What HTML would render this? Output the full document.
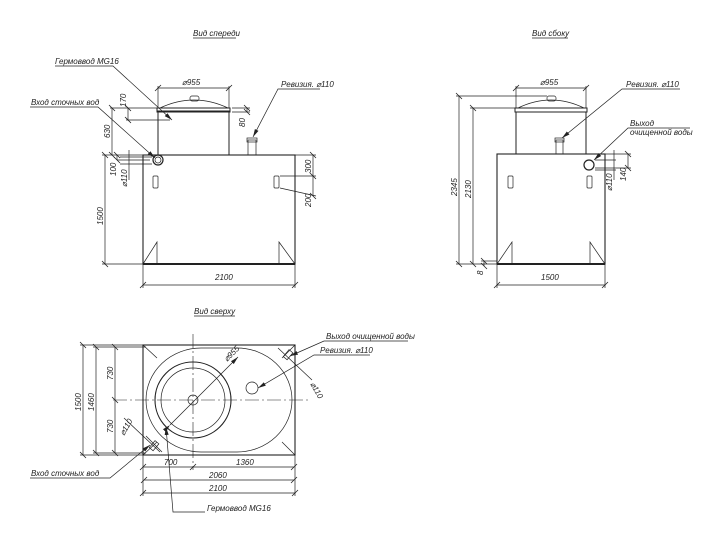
<!DOCTYPE html>
<html><head><meta charset="utf-8"><style>
html,body{margin:0;padding:0;background:#fff;}
svg{display:block}
text{font-family:"Liberation Sans",sans-serif;font-style:italic;font-size:8px;fill:#222}
</style></head><body>
<svg width="720" height="543" viewBox="0 0 720 543" xmlns="http://www.w3.org/2000/svg">
<defs>
<marker id="t" viewBox="-4 -4 8 8" markerWidth="8" markerHeight="8" refX="0" refY="0" orient="auto" markerUnits="userSpaceOnUse"><path d="M-3 3 L3 -3" stroke="#222" stroke-width="0.8"/></marker>
<marker id="a" viewBox="0 -3 8 6" markerWidth="8" markerHeight="6" refX="8" refY="0" orient="auto" markerUnits="userSpaceOnUse"><path d="M0 -2 L8 0 L0 2z" fill="#222"/></marker>
</defs>
<g stroke="#222" fill="none" stroke-width="0.7">
<!-- titles underline -->
<line x1="193" y1="38" x2="236" y2="38"/><line x1="532" y1="38" x2="568" y2="38"/><line x1="194" y1="316" x2="235" y2="316"/>

<!-- FRONT VIEW -->
<rect x="143" y="155" width="152" height="109" stroke-width="1.1"/>
<line x1="143" y1="264" x2="295" y2="264" stroke-width="2"/>
<path d="M143 264 L157 242 L157 264 M295 264 L279 242 L279 264"/>
<rect x="158" y="111" width="71" height="44" stroke-width="1"/>
<rect x="157" y="108" width="73" height="4" stroke-width="1"/>
<path d="M160 108 Q194 92 228 108"/>
<rect x="190" y="96" width="9" height="5" rx="2"/>
<rect x="248" y="140" width="8" height="15"/><rect x="247" y="138" width="10" height="4"/>
<circle cx="158" cy="160" r="5" stroke-width="1.2"/><circle cx="158" cy="160" r="3"/>
<rect x="153" y="176" width="5" height="12" rx="1"/><rect x="274" y="176" width="5" height="12" rx="1"/>
<!-- front dims -->
<line x1="158" y1="88" x2="229" y2="88" marker-start="url(#t)" marker-end="url(#t)"/>
<line x1="158" y1="86" x2="158" y2="108"/><line x1="229" y1="86" x2="229" y2="108"/>
<line x1="105" y1="155" x2="105" y2="264" marker-start="url(#t)" marker-end="url(#t)"/>
<line x1="102" y1="155" x2="143" y2="155"/><line x1="102" y1="264" x2="143" y2="264"/>
<line x1="112" y1="108" x2="112" y2="155" marker-start="url(#t)" marker-end="url(#t)"/>
<line x1="110" y1="108" x2="157" y2="108"/>
<line x1="128" y1="108" x2="128" y2="120" marker-start="url(#t)" marker-end="url(#t)"/>
<line x1="126" y1="120" x2="170" y2="120"/>
<line x1="117" y1="155" x2="117" y2="160" marker-start="url(#t)" marker-end="url(#t)"/>
<line x1="117" y1="160" x2="150" y2="160"/><line x1="120" y1="157" x2="152" y2="157"/><line x1="120" y1="164" x2="152" y2="164"/>
<line x1="129" y1="150" x2="129" y2="180"/>
<line x1="143" y1="285" x2="295" y2="285" marker-start="url(#t)" marker-end="url(#t)"/>
<line x1="143" y1="264" x2="143" y2="288"/><line x1="295" y1="264" x2="295" y2="288"/>
<line x1="313" y1="155" x2="313" y2="176" marker-start="url(#t)" marker-end="url(#t)"/>
<line x1="313" y1="176" x2="313" y2="196" marker-end="url(#t)"/>
<line x1="295" y1="155" x2="316" y2="155"/><line x1="280" y1="176" x2="316" y2="176"/><line x1="280" y1="188" x2="316" y2="196"/>
<line x1="247" y1="108" x2="247" y2="112" marker-start="url(#t)" marker-end="url(#t)"/>
<line x1="232" y1="108" x2="250" y2="108"/><line x1="232" y1="112" x2="250" y2="112"/>
<!-- leaders front -->
<path d="M55 66 L113 66 L172 120" marker-end="url(#a)"/>
<path d="M30 107 L98 107 L155 158" marker-end="url(#a)"/>
<path d="M320 89 L278 89 L253 137" marker-end="url(#a)"/>

<!-- SIDE VIEW -->
<rect x="497" y="154" width="108" height="110" stroke-width="1.1"/>
<line x1="497" y1="264" x2="605" y2="264" stroke-width="2"/>
<path d="M497 264 L512 242 L512 264 M605 264 L590 242 L590 264"/>
<rect x="516" y="112" width="70" height="42" stroke-width="1"/>
<rect x="515" y="108" width="72" height="4" stroke-width="1"/>
<path d="M518 108 Q551 92 584 108"/>
<rect x="547" y="96" width="9" height="5" rx="2"/>
<rect x="556" y="140" width="7" height="14"/><rect x="555" y="138" width="9" height="4"/>
<circle cx="589" cy="165" r="5" stroke-width="1.2"/>
<rect x="508" y="176" width="5" height="12" rx="1"/><rect x="587" y="176" width="5" height="12" rx="1"/>
<line x1="516" y1="88" x2="586" y2="88" marker-start="url(#t)" marker-end="url(#t)"/>
<line x1="516" y1="86" x2="516" y2="108"/><line x1="586" y1="86" x2="586" y2="108"/>
<line x1="459" y1="96" x2="459" y2="264" marker-start="url(#t)" marker-end="url(#t)"/>
<line x1="456" y1="96" x2="547" y2="96"/><line x1="456" y1="264" x2="497" y2="264"/>
<line x1="473" y1="108" x2="473" y2="264" marker-start="url(#t)" marker-end="url(#t)"/>
<line x1="470" y1="108" x2="515" y2="108"/>
<line x1="484" y1="261" x2="484" y2="266" marker-start="url(#t)" marker-end="url(#t)"/>
<line x1="481" y1="261" x2="497" y2="261"/>
<line x1="497" y1="285" x2="605" y2="285" marker-start="url(#t)" marker-end="url(#t)"/>
<line x1="497" y1="264" x2="497" y2="288"/><line x1="605" y1="264" x2="605" y2="288"/>
<line x1="628" y1="154" x2="628" y2="168" marker-start="url(#t)" marker-end="url(#t)"/>
<line x1="600" y1="154" x2="631" y2="154"/><line x1="595" y1="168" x2="631" y2="168"/>
<line x1="595" y1="160" x2="616" y2="160"/><line x1="595" y1="170" x2="616" y2="170"/>
<line x1="614" y1="150" x2="614" y2="180"/>
<path d="M680 89 L622 89 L562 138" marker-end="url(#a)"/>
<path d="M690 128 L628 128 L594 160" marker-end="url(#a)"/>

<!-- TOP VIEW -->
<rect x="143" y="345" width="152" height="110" stroke-width="1.1"/>
<rect x="146" y="348" width="146" height="104" rx="55" ry="52"/>
<path d="M143 345 L157 358 M295 345 L282 358 M143 455 L157 442 M295 455 L282 442"/>
<circle cx="193" cy="400" r="38" stroke-width="1.1"/>
<circle cx="193" cy="400" r="32"/>
<circle cx="193" cy="400" r="5"/>
<circle cx="252" cy="388" r="6"/>
<rect x="286" y="350" width="5" height="9" transform="rotate(40 288 354)"/>
<rect x="152" y="441" width="5" height="9" transform="rotate(40 154 445)"/>
<g stroke-dasharray="14 3 2 3" stroke-width="0.6">
<line x1="193" y1="334" x2="193" y2="470"/><line x1="113" y1="400" x2="310" y2="400"/>
</g>
<line x1="170" y1="425" x2="238" y2="357" marker-start="url(#a)" marker-end="url(#a)"/>
<line x1="83" y1="345" x2="83" y2="455" marker-start="url(#t)" marker-end="url(#t)"/>
<line x1="96" y1="347" x2="96" y2="453" marker-start="url(#t)" marker-end="url(#t)"/>
<line x1="115" y1="347" x2="115" y2="400" marker-start="url(#t)" marker-end="url(#t)"/>
<line x1="115" y1="400" x2="115" y2="453" marker-end="url(#t)"/>
<line x1="80" y1="345" x2="143" y2="345"/><line x1="80" y1="455" x2="143" y2="455"/>
<line x1="93" y1="347" x2="146" y2="347"/><line x1="93" y1="453" x2="146" y2="453"/>
<line x1="143" y1="467" x2="193" y2="467" marker-start="url(#t)" marker-end="url(#t)"/>
<line x1="193" y1="467" x2="294" y2="467" marker-end="url(#t)"/>
<line x1="144" y1="480" x2="294" y2="480" marker-start="url(#t)" marker-end="url(#t)"/>
<line x1="143" y1="493" x2="295" y2="493" marker-start="url(#t)" marker-end="url(#t)"/>
<line x1="143" y1="455" x2="143" y2="496"/><line x1="295" y1="455" x2="295" y2="496"/>
<line x1="124" y1="418" x2="160" y2="452"/><line x1="146" y1="436" x2="162" y2="452"/>
<line x1="278" y1="348" x2="312" y2="380"/>
<path d="M30 478 L110 478 L150 445" marker-end="url(#a)"/>
<path d="M205 512 L173 512 L166 427" marker-end="url(#a)"/>
<path d="M408 341 L324 341 L290 356" marker-end="url(#a)"/>
<path d="M370 355 L314 355 L258 388" marker-end="url(#a)"/>
</g>

<!-- TEXT -->
<text x="193" y="36">Вид спереди</text>
<text x="532" y="36">Вид сбоку</text>
<text x="194" y="314">Вид сверху</text>
<text x="55" y="64">Гермоввод MG16</text>
<text x="31" y="105">Вход сточных вод</text>
<text x="281" y="87">Ревизия. ⌀110</text>
<text x="182" y="85">⌀955</text>
<text x="540" y="85">⌀955</text>
<text x="626" y="87">Ревизия. ⌀110</text>
<text x="630" y="126">Выход</text>
<text x="630" y="135">очищенной воды</text>
<text x="215" y="280">2100</text>
<text x="541" y="280">1500</text>
<g font-size="8">
<text transform="translate(103 225) rotate(-90)">1500</text>
<text transform="translate(110 138) rotate(-90)">630</text>
<text transform="translate(126 107) rotate(-90)">170</text>
<text transform="translate(116 176) rotate(-90)">100</text>
<text transform="translate(127 187) rotate(-90)">⌀110</text>
<text transform="translate(311 173) rotate(-90)">300</text>
<text transform="translate(311 207) rotate(-90)">200</text>
<text transform="translate(245 127) rotate(-90)">80</text>
<text transform="translate(457 196) rotate(-90)">2345</text>
<text transform="translate(471 198) rotate(-90)">2130</text>
<text transform="translate(483 275) rotate(-90)">8</text>
<text transform="translate(612 191) rotate(-90)">⌀110</text>
<text transform="translate(626 181) rotate(-90)">140</text>
<text transform="translate(81 411) rotate(-90)">1500</text>
<text transform="translate(94 411) rotate(-90)">1460</text>
<text transform="translate(113 380) rotate(-90)">730</text>
<text transform="translate(113 433) rotate(-90)">730</text>
<text transform="translate(124 436) rotate(-60)">⌀110</text>
<text transform="translate(310 384) rotate(60)">⌀110</text>
<text transform="translate(227 362) rotate(-45)">⌀955</text>
</g>
<text x="164" y="465">700</text>
<text x="236" y="465">1360</text>
<text x="209" y="478">2060</text>
<text x="209" y="491">2100</text>
<text x="31" y="476">Вход сточных вод</text>
<text x="207" y="511">Гермоввод MG16</text>
<text x="326" y="339">Выход очищенной воды</text>
<text x="320" y="353">Ревизия. ⌀110</text>
</svg>
</body></html>
